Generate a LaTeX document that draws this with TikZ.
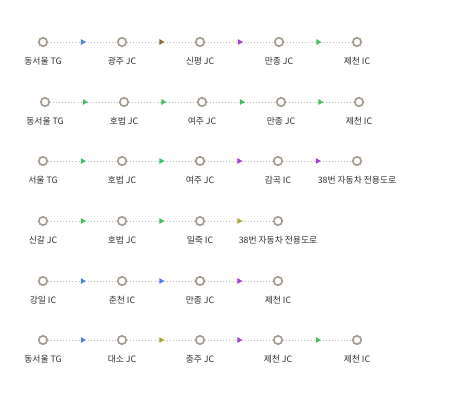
\documentclass[tikz,border=0pt]{standalone}
\usepackage{fontspec}
\setmainfont{Noto Sans CJK KR}
\usetikzlibrary{shapes.geometric}
\definecolor{ringc}{HTML}{A79C91}
\definecolor{dotc}{HTML}{BDBDBD}
\definecolor{txtc}{HTML}{2E2E2E}
\definecolor{blu}{HTML}{4F7FE6}
\definecolor{brn}{HTML}{8A6A32}
\definecolor{pur}{HTML}{A442D6}
\definecolor{grn}{HTML}{3FBF62}
\definecolor{olv}{HTML}{A8A632}
\tikzset{
	stn/.style={circle, draw=ringc, line width=1.7pt, fill=white, minimum size=8.4pt, inner sep=0pt,
		label={[lbl]center:#1}},
	lbl/.style={anchor=center, yshift=-19pt, text=txtc, font=\fontsize{8.8}{10}\selectfont, inner sep=1pt},
	road/.style={draw=dotc, line width=0.75pt, dash pattern=on 0.75pt off 2.3pt},
	tip/.style={isosceles triangle, isosceles triangle stretches, fill=#1, inner sep=0pt,
		minimum width=6pt, minimum height=5pt, pos=0.5}
}
\begin{document}
\begin{tikzpicture}[x=1pt,y=-1pt]
	\useasboundingbox (0,0) rectangle (467,400);
	
	% row 1
	\node[stn={동서울 TG}] (a1) at (43,42) {};
	\node[stn={광주 JC}]   (a2) at (122,42) {};
	\node[stn={신평 JC}]   (a3) at (200,42) {};
	\node[stn={만종 JC}]   (a4) at (279,42) {};
	\node[stn={제천 IC}]   (a5) at (357,42) {};
	\draw[road] (a1) -- node[tip=blu]{} (a2);
	\draw[road] (a2) -- node[tip=brn]{} (a3);
	\draw[road] (a3) -- node[tip=pur]{} (a4);
	\draw[road] (a4) -- node[tip=grn]{} (a5);
	
	% row 2
	\node[stn={동서울 TG}] (b1) at (45,102) {};
	\node[stn={호법 JC}]   (b2) at (124,102) {};
	\node[stn={여주 JC}]   (b3) at (202,102) {};
	\node[stn={만종 JC}]   (b4) at (281,102) {};
	\node[stn={제천 IC}]   (b5) at (359,102) {};
	\draw[road] (b1) -- node[tip=grn]{} (b2);
	\draw[road] (b2) -- node[tip=grn]{} (b3);
	\draw[road] (b3) -- node[tip=grn]{} (b4);
	\draw[road] (b4) -- node[tip=grn]{} (b5);
	
	% row 3
	\node[stn={서울 TG}]   (c1) at (43,161) {};
	\node[stn={호법 JC}]   (c2) at (122,161) {};
	\node[stn={여주 JC}]   (c3) at (200,161) {};
	\node[stn={감곡 IC}]   (c4) at (278,161) {};
	\node[stn={38번 자동차 전용도로}] (c5) at (357,161) {};
	\draw[road] (c1) -- node[tip=grn]{} (c2);
	\draw[road] (c2) -- node[tip=grn]{} (c3);
	\draw[road] (c3) -- node[tip=pur]{} (c4);
	\draw[road] (c4) -- node[tip=pur]{} (c5);
	
	% row 4
	\node[stn={신갈 JC}]   (d1) at (43,221) {};
	\node[stn={호법 JC}]   (d2) at (122,221) {};
	\node[stn={일죽 IC}]   (d3) at (200,221) {};
	\node[stn={38번 자동차 전용도로}] (d4) at (278,221) {};
	\draw[road] (d1) -- node[tip=grn]{} (d2);
	\draw[road] (d2) -- node[tip=grn]{} (d3);
	\draw[road] (d3) -- node[tip=olv]{} (d4);
	
	% row 5
	\node[stn={강일 IC}]   (e1) at (43,281) {};
	\node[stn={춘천 IC}]   (e2) at (122,281) {};
	\node[stn={만종 JC}]   (e3) at (200,281) {};
	\node[stn={제천 IC}]   (e4) at (278,281) {};
	\draw[road] (e1) -- node[tip=blu]{} (e2);
	\draw[road] (e2) -- node[tip=blu]{} (e3);
	\draw[road] (e3) -- node[tip=pur]{} (e4);
	
	% row 6
	\node[stn={동서울 TG}] (f1) at (43,340) {};
	\node[stn={대소 JC}]   (f2) at (122,340) {};
	\node[stn={충주 JC}]   (f3) at (200,340) {};
	\node[stn={제천 JC}]   (f4) at (278,340) {};
	\node[stn={제천 IC}]   (f5) at (357,340) {};
	\draw[road] (f1) -- node[tip=blu]{} (f2);
	\draw[road] (f2) -- node[tip=olv]{} (f3);
	\draw[road] (f3) -- node[tip=pur]{} (f4);
	\draw[road] (f4) -- node[tip=grn]{} (f5);
\end{tikzpicture}
\end{document}
